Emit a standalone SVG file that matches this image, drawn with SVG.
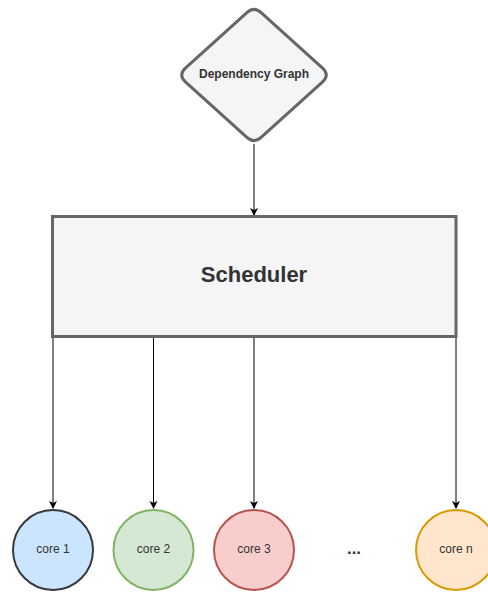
<svg xmlns="http://www.w3.org/2000/svg" width="488" height="592" viewBox="0 0 488 592">
<defs>
<marker id="arr" markerWidth="10" markerHeight="10" refX="7" refY="4" orient="auto" markerUnits="userSpaceOnUse">
<path d="M0,0 L8,4 L0,8 L2,4 Z" fill="#000"/>
</marker>
<style>
.box{fill:#f5f5f5;stroke:#666666;stroke-width:3}
.lbl{font-family:"Liberation Sans",Arial,sans-serif;fill:#333333;text-anchor:middle}
.core{stroke-width:2}
.ct{font-family:"Liberation Sans",Arial,sans-serif;font-size:12px;fill:#333333;text-anchor:middle}
.edge{stroke:#000;stroke-width:1;fill:none;marker-end:url(#arr)}
</style>
</defs>
<rect width="488" height="592" fill="#ffffff"/>
<g id="connectors">
<path class="edge" d="M254,144 L254,215"/>
<path class="edge" d="M53,338 L53,508"/>
<path class="edge" d="M153.5,338 L153.5,508"/>
<path class="edge" d="M254,338 L254,508"/>
<path class="edge" d="M456,338 L456,508"/>
</g>
<g id="dependency-graph">
<path class="box" d="M246.6,12.8 Q254,6 261.4,12.8 L322.6,68.2 Q330,75 322.6,81.8 L261.4,137.2 Q254,144 246.6,137.2 L185.4,81.8 Q178,75 185.4,68.2 Z"/>
<text class="lbl" x="254" y="78" font-size="12" font-weight="bold">Dependency Graph</text>
</g>
<g id="scheduler">
<rect class="box" x="52.5" y="216.5" width="403.5" height="120"/>
<text class="lbl" x="254" y="282" font-size="22" font-weight="bold">Scheduler</text>
</g>
<g id="core1">
<circle class="core" cx="53" cy="550" r="40" fill="#cce5ff" stroke="#36393d"/>
<text class="ct" x="53" y="553">core 1</text>
</g>
<g id="core2">
<circle class="core" cx="153.5" cy="550" r="40" fill="#d5e8d4" stroke="#82b366"/>
<text class="ct" x="153.5" y="553">core 2</text>
</g>
<g id="core3">
<circle class="core" cx="254" cy="550" r="40" fill="#f8cecc" stroke="#b85450"/>
<text class="ct" x="254" y="553">core 3</text>
</g>
<g id="ellipsis">
<text class="lbl" x="354" y="554" font-size="17" font-weight="bold" fill="#000">...</text>
</g>
<g id="coren">
<circle class="core" cx="456" cy="550" r="40" fill="#ffe6cc" stroke="#d79b00"/>
<text class="ct" x="456" y="553">core n</text>
</g>
</svg>
